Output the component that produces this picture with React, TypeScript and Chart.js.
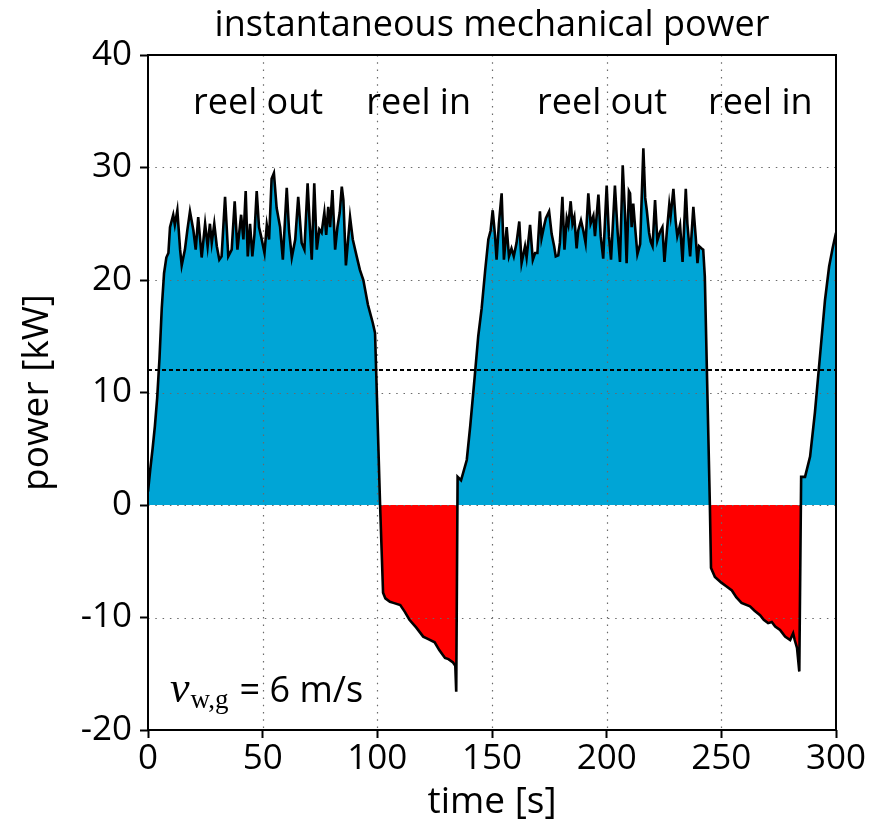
import React, { useEffect, useRef } from 'react';
import { Chart, registerables } from 'chart.js';

Chart.register(...registerables);

// ---- data (time in s, power in kW) ----
const reelOut1Time = [0, 1, 2, 3, 4, 5, 6, 7, 8, 8.9, 9.6, 11.0, 11.7, 12.8, 14.0, 14.7, 16.1, 17.2, 18.3, 19.8, 20.8, 21.9, 23.4, 24.9, 26.0, 27.0, 27.8, 28.9, 30.0, 31.1, 32.1, 33.6, 35.0, 36.5, 37.8, 39.0, 40.6, 41.6, 42.6, 43.5, 44.5, 45.5, 46.4, 47.4, 48.4, 49.3, 50.8, 51.8, 52.8, 53.9, 54.9, 56.1, 57.6, 58.8, 60.5, 61.5, 62.7, 64.2, 65.5, 67.0, 68.2, 69.6, 70.5, 71.4, 72.5, 73.6, 74.7, 75.7, 76.9, 77.7, 78.6, 79.4, 80.4, 81.6, 82.6, 83.6, 84.5, 85.2, 86.3, 88.1, 89.3, 91.0, 92.4, 93.9, 95.9, 98.0, 99.0];
const reelOut1Power = [1.2, 3.2, 5.0, 7.0, 9.5, 13.0, 17.5, 20.6, 22.0, 22.4, 24.7, 25.8, 24.9, 26.2, 22.7, 21.3, 22.7, 24.5, 26.1, 24.4, 22.7, 25.6, 22.0, 25.0, 23.0, 25.0, 23.3, 25.0, 23.0, 21.8, 22.1, 27.4, 22.1, 22.7, 27.0, 22.7, 25.8, 23.6, 27.9, 22.1, 25.0, 22.1, 24.0, 27.9, 24.7, 23.9, 22.4, 24.9, 23.6, 29.0, 29.5, 26.4, 24.7, 21.8, 28.2, 24.4, 22.0, 23.6, 27.4, 23.3, 22.7, 28.6, 25.0, 21.8, 28.6, 22.7, 24.5, 24.2, 26.0, 24.0, 26.5, 24.7, 28.0, 22.7, 24.7, 26.0, 28.3, 27.1, 21.3, 25.6, 23.6, 22.1, 20.9, 20.0, 17.8, 16.2, 15.3];

const reelIn1Time = [101.2, 102.5, 103.5, 105.5, 107, 110, 112, 114, 117, 120, 122, 125, 127, 129.5, 131, 133, 134, 134.4, 135.0, 136.5, 139, 140.5, 142.5, 144, 145.5, 147, 148.4, 149.4];
const reelIn1Power = [0, -7.8, -8.3, -8.6, -8.7, -8.9, -9.5, -10.2, -10.9, -11.7, -11.9, -12.2, -12.9, -13.6, -13.7, -14.0, -14.3, -16.6, 2.5, 2.2, 4.0, 7.0, 11.5, 15.0, 17.5, 20.8, 23.6, 24.4];

const reelOut2Time = [150.3, 151.3, 152.0, 153.0, 154.2, 155.2, 156.4, 157.4, 158.5, 159.5, 160.7, 161.9, 162.9, 164.4, 165.1, 166.6, 167.8, 168.8, 169.8, 170.9, 171.6, 172.6, 173.5, 174.9, 176.0, 177.1, 177.8, 178.9, 179.6, 180.7, 181.6, 182.6, 183.3, 184.3, 185.1, 185.9, 186.9, 187.6, 188.8, 189.8, 190.8, 192.0, 193.0, 194.2, 194.9, 196.4, 197.4, 198.5, 200.0, 201.0, 201.9, 203.6, 204.8, 205.8, 207.0, 208.0, 208.7, 209.7, 210.2, 210.9, 211.6, 212.4, 213.4, 214.6, 216.0, 216.8, 217.5, 218.5, 219.2, 220.0, 221.1, 222.1, 223.3, 224.3, 225.2, 226.2, 227.3, 227.9, 229.1, 230.1, 230.8, 232.0, 233.1, 234.5, 235.2, 236.4, 237.8, 238.8, 239.6, 240.3, 241.4, 242.1, 242.8];
const reelOut2Power = [26.2, 24.0, 21.8, 25.0, 27.7, 21.8, 24.7, 22.1, 22.8, 22.1, 23.3, 25.2, 21.5, 23.0, 22.0, 24.9, 21.8, 22.4, 22.4, 26.1, 23.7, 24.7, 25.5, 26.1, 24.1, 23.0, 22.1, 22.2, 23.3, 27.4, 22.7, 25.5, 24.9, 27.0, 25.0, 25.6, 22.8, 24.4, 25.3, 24.4, 23.3, 27.7, 25.0, 25.7, 23.9, 27.6, 23.9, 21.9, 28.4, 23.9, 21.8, 28.4, 24.2, 21.6, 30.2, 25.9, 21.5, 27.9, 27.7, 24.7, 26.8, 24.7, 22.3, 23.2, 31.7, 27.3, 26.2, 24.2, 23.4, 23.0, 27.1, 23.5, 24.3, 24.7, 21.6, 24.2, 26.7, 25.7, 28.1, 25.2, 23.9, 24.9, 21.6, 28.1, 25.0, 22.1, 26.5, 23.9, 21.5, 23.0, 22.8, 22.7, 20.3];

const reelIn2Time = [245.0, 245.5, 247.2, 250, 252, 254.6, 256.5, 258.8, 262.5, 264.5, 266.9, 268.5, 270.4, 272, 273.5, 275.6, 277.8, 280, 281.3, 282, 283, 284.0, 284.8, 286.5, 288.7, 290.8, 293, 295.2, 297, 298.5, 300];
const reelIn2Power = [0, -5.6, -6.4, -6.9, -7.2, -7.6, -8.2, -8.7, -9.0, -9.4, -9.8, -10.2, -10.5, -10.4, -10.8, -11.1, -11.7, -12.0, -11.4, -12.0, -12.7, -14.8, 2.5, 2.5, 4.3, 8.2, 13.2, 18.2, 21.2, 22.8, 24.2];

const meanPower = 12;

const xTicks = [0, 50, 100, 150, 200, 250, 300];
const yTicks = [-20, -10, 0, 10, 20, 30, 40];

const phaseLabels = ['reel out', 'reel in', 'reel out', 'reel in'];
const phaseLabelTimes = [48, 118, 198, 267];

const FONT = '"Open Sans", sans-serif';
const BLUE = 'rgb(0,165,214)';
const RED = 'rgb(255,0,0)';

export default function App() {
  const ref = useRef<HTMLCanvasElement>(null);

  useEffect(() => {
    const time = [...reelOut1Time, ...reelIn1Time, ...reelOut2Time, ...reelIn2Time];
    const power = [...reelOut1Power, ...reelIn1Power, ...reelOut2Power, ...reelIn2Power];
    const points = time.map((t, i) => ({ x: t, y: power[i] }));

    const mplPlugin = {
      id: 'mplStyle',
      beforeDatasetsDraw(chart: any) {
        const { ctx, chartArea: a, scales } = chart;
        const xs = scales.x, ys = scales.y;
        ctx.save();
        ctx.strokeStyle = '#6a6a6a';
        ctx.lineWidth = 1.2;
        ctx.setLineDash([1.5, 5.8]);
        xTicks.forEach((v) => {
          const px = Math.round(xs.getPixelForValue(v)) + 0.5;
          if (px <= a.left + 2 || px >= a.right - 2) return;
          ctx.beginPath(); ctx.moveTo(px, a.top); ctx.lineTo(px, a.bottom); ctx.stroke();
        });
        yTicks.forEach((v) => {
          const py = Math.round(ys.getPixelForValue(v)) + 0.5;
          if (py <= a.top + 2 || py >= a.bottom - 2) return;
          ctx.beginPath(); ctx.moveTo(a.left, py); ctx.lineTo(a.right, py); ctx.stroke();
        });
        ctx.restore();
      },
      afterDraw(chart: any) {
        const { ctx, chartArea: a, scales } = chart;
        const xs = scales.x;
        ctx.save();
        // frame
        ctx.setLineDash([]);
        ctx.strokeStyle = '#000';
        ctx.lineWidth = 2;
        ctx.strokeRect(a.left, a.top, a.right - a.left, a.bottom - a.top);
        // title
        ctx.fillStyle = '#000';
        ctx.textAlign = 'center';
        ctx.textBaseline = 'alphabetic';
        ctx.font = `36px ${FONT}`;
        ctx.fillText('instantaneous mechanical power', (a.left + a.right) / 2, 36);
        // phase labels
        ctx.font = `36px ${FONT}`;
        phaseLabels.forEach((s, i) => {
          ctx.fillText(s, xs.getPixelForValue(phaseLabelTimes[i]), 114);
        });
        // wind speed label
        ctx.textAlign = 'left';
        let x0 = a.left + 22;
        const base = a.bottom - 28;
        ctx.font = `italic 44px "Liberation Serif", serif`;
        ctx.fillText('v', x0, base);
        x0 += ctx.measureText('v').width + 1;
        ctx.font = `27px "Liberation Serif", serif`;
        ctx.fillText('w,g', x0, base + 6);
        x0 += ctx.measureText('w,g').width + 11;
        ctx.font = `36px ${FONT}`;
        ctx.fillText('= 6 m/s', x0, base);
        ctx.restore();
      },
    };

    const chart = new Chart(ref.current as HTMLCanvasElement, {
      type: 'line',
      data: {
        datasets: [
          {
            data: points,
            borderColor: '#000',
            borderWidth: 2.6,
            pointRadius: 0,
            tension: 0,
            fill: { target: { value: 0 }, above: BLUE, below: RED },
            order: 1,
          } as any,
          {
            data: [{ x: 0, y: meanPower }, { x: 300, y: meanPower }],
            borderColor: '#000',
            borderWidth: 2,
            borderDash: [4, 3],
            pointRadius: 0,
            fill: false,
            order: 0,
          },
        ],
      },
      options: {
        animation: false,
        responsive: false,
        devicePixelRatio: 1,
        layout: { padding: { left: 0, top: 55, right: 35, bottom: 0 } },
        plugins: {
          legend: { display: false },
          tooltip: { enabled: false },
          filler: { drawTime: 'beforeDatasetsDraw' },
        } as any,
        scales: {
          x: {
            type: 'linear',
            min: 0,
            max: 300,
            afterFit: (s: any) => { s.height = 98; },
            afterBuildTicks: (s: any) => { s.ticks = xTicks.map((v) => ({ value: v })); },
            ticks: { color: '#000', font: { family: FONT, size: 35 }, padding: 0, maxRotation: 0 },
            grid: { color: 'rgba(0,0,0,0)', drawTicks: true, tickLength: 8, tickColor: '#000', tickWidth: 2 },
            border: { display: false },
            title: { display: true, text: 'time [s]', color: '#000', font: { family: FONT, size: 37 }, padding: { top: 0, bottom: 3 } },
          },
          y: {
            type: 'linear',
            min: -20,
            max: 40,
            afterFit: (s: any) => { s.width = 148; },
            afterBuildTicks: (s: any) => { s.ticks = yTicks.map((v) => ({ value: v })); },
            ticks: { color: '#000', font: { family: FONT, size: 35 }, padding: 8 },
            grid: { color: 'rgba(0,0,0,0)', drawTicks: true, tickLength: 8, tickColor: '#000', tickWidth: 2 },
            border: { display: false },
            title: { display: true, text: 'power [kW]', color: '#000', font: { family: FONT, size: 37 }, padding: { top: 15, bottom: 0 } },
          },
        },
      },
      plugins: [mplPlugin],
    });
    return () => chart.destroy();
  }, []);

  return (
    <div style={{ position: 'fixed', left: 0, top: 0, width: 871, height: 828, background: '#fff' }}>
      <canvas ref={ref} width={871} height={828} style={{ display: 'block' }} />
    </div>
  );
}
